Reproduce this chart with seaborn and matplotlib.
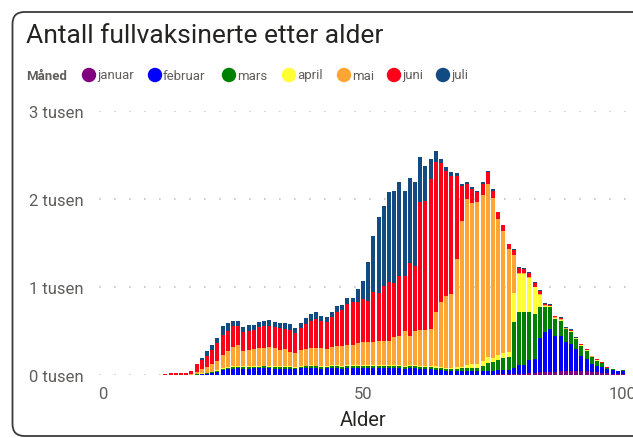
import matplotlib
matplotlib.use("Agg")
import matplotlib.pyplot as plt
from matplotlib.patches import FancyBboxPatch, Circle
import pandas as pd
import seaborn as sns

# alder 12..100
ages = list(range(12, 101))

januar = [0, 0, 0, 0, 0, 0, 0, 0,
          0, 0, 0, 3, 3, 5, 5, 5, 5, 5,
          5, 5, 5, 5, 5, 5, 5, 5, 5, 5,
          5, 5, 5, 5, 5, 5, 5, 5, 5, 5,
          5, 5, 5, 5, 5, 5, 5, 5, 5, 5,
          5, 5, 5, 5, 5, 5, 5, 5, 5, 5,
          5, 5, 5, 5, 5, 5, 8, 8, 10, 10,
          15, 15, 20, 25, 30, 35, 35, 35, 48, 45,
          45, 45, 45, 40, 35, 30, 25, 20, 15, 10, 10]
februar = [0, 0, 0, 0, 0, 0, 5, 8,
           12, 20, 35, 55, 60, 65, 70, 65, 65, 70,
           70, 72, 70, 68, 65, 68, 65, 60, 70, 70,
           72, 70, 68, 70, 72, 70, 68, 72, 70, 72,
           70, 72, 70, 72, 70, 72, 70, 75, 65, 72,
           70, 60, 62, 60, 55, 50, 45, 45, 45, 45,
           45, 45, 40, 42, 45, 45, 50, 50, 48, 66,
           99, 99, 150, 157, 385, 450, 488, 412, 398, 326,
           307, 251, 175, 142, 90, 76, 62, 45, 40, 33, 40]
mars = [0, 0, 0, 0, 0, 0, 3, 5,
        8, 10, 12, 15, 18, 20, 20, 20, 20, 20,
        20, 20, 20, 20, 20, 20, 20, 18, 20, 22,
        22, 22, 20, 20, 22, 22, 22, 22, 22, 24,
        24, 24, 24, 24, 24, 24, 25, 25, 25, 28,
        28, 28, 28, 28, 25, 22, 20, 20, 22, 25,
        30, 35, 40, 60, 85, 100, 114, 133, 152, 530,
        606, 606, 550, 512, 360, 284, 246, 190, 170, 152,
        133, 114, 114, 95, 76, 57, 49, 15, 8, 5, 5]
april = [0, 0, 0, 0, 0, 0, 5, 8,
         8, 8, 10, 10, 10, 10, 10, 10, 10, 10,
         10, 10, 10, 10, 10, 10, 10, 10, 10, 10,
         10, 10, 10, 10, 10, 12, 12, 12, 12, 12,
         12, 12, 12, 12, 12, 12, 12, 12, 12, 12,
         12, 12, 12, 12, 12, 12, 12, 12, 15, 20,
         30, 40, 45, 55, 65, 45, 57, 57, 57, 322,
         430, 430, 380, 303, 133, 19, 10, 10, 10, 5,
         10, 5, 5, 5, 5, 5, 3, 2, 2, 1, 1]
mai = [3, 4, 4, 3, 5, 8, 17, 47,
       59, 87, 106, 144, 178, 215, 240, 177, 184, 191,
       198, 200, 210, 204, 188, 193, 158, 157, 179, 189,
       194, 200, 204, 191, 206, 217, 227, 234, 236, 251,
       261, 259, 268, 270, 272, 270, 316, 323, 397, 330,
       389, 410, 408, 418, 616, 737, 820, 839, 1232, 1660,
       1891, 1835, 1833, 1886, 1972, 1811, 1545, 1393, 1166, 440,
       10, 10, 10, 8, 8, 8, 8, 8, 10, 5,
       10, 5, 5, 5, 5, 5, 2, 2, 1, 1, 0]
juni = [12, 14, 16, 15, 18, 35, 95, 102,
        129, 163, 197, 228, 235, 238, 208, 208, 220, 216,
        247, 254, 246, 235, 243, 227, 257, 228, 250, 284,
        307, 330, 303, 303, 348, 394, 405, 462, 481, 462,
        492, 473, 568, 549, 633, 671, 618, 689, 625, 826,
        732, 1448, 1467, 1705, 1705, 1584, 1421, 1345, 940, 398,
        171, 152, 114, 121, 140, 87, 75, 60, 50, 57,
        60, 50, 47, 38, 38, 15, 10, 10, 12, 6,
        12, 5, 5, 5, 5, 5, 2, 2, 1, 0, 0]
juli = [0, 0, 0, 0, 0, 2, 5, 23,
        57, 57, 57, 106, 87, 65, 65, 64, 64, 56,
        49, 57, 68, 64, 56, 64, 65, 53, 53, 68,
        83, 76, 64, 56, 57, 68, 61, 69, 50, 152,
        205, 444, 637, 861, 902, 1023, 1050, 1061, 967, 963,
        954, 512, 391, 228, 125, 46, 38, 38, 34, 19,
        18, 19, 19, 19, 11, 15, 8, 8, 7, 8,
        11, 10, 10, 10, 10, 10, 8, 5, 6, 3,
        6, 4, 4, 4, 4, 4, 2, 1, 1, 1, 1]

months = ["januar", "februar", "mars", "april", "mai", "juni", "juli"]
colors = ["#800080", "#0000FF", "#008000", "#FFFF33", "#FFA533", "#FF0018", "#124A82"]
series = [januar, februar, mars, april, mai, juni, juli]

rows = []
for m, vals in zip(months, series):
    for a, v in zip(ages, vals):
        rows.append({"Alder": a, "Måned": m, "Antall": v})
df = pd.DataFrame(rows)

sns.set_style("white")
plt.rcParams["font.family"] = ["Roboto", "DejaVu Sans"]

W, H = 633, 439
fig = plt.figure(figsize=(6.33, 4.39), dpi=100)

# overlay i piksler for ramme, tittel og legende
bg = fig.add_axes([0, 0, 1, 1], zorder=-1)
bg.set_xlim(0, W)
bg.set_ylim(H, 0)
bg.axis("off")
bg.add_patch(FancyBboxPatch((12.5, 13), 2000, 424, boxstyle="round,pad=0,rounding_size=12",
                            facecolor="none", edgecolor="#3a3a3a", linewidth=1.3,
                            clip_on=False))

ax = fig.add_axes([99 / W, 63 / H, 529 / W, 264 / H])
sns.histplot(data=df, x="Alder", weights="Antall", hue="Måned",
             hue_order=months[::-1], palette=dict(zip(months, colors)),
             multiple="stack", discrete=True, shrink=0.8, linewidth=0,
             alpha=1, legend=False, ax=ax)

ax.set_xlim(-0.77, 100.96)
ax.set_ylim(0, 3000)
ax.set_yticks([0, 1000, 2000, 3000])
ax.set_yticklabels(["0 tusen", "1 tusen", "2 tusen", "3 tusen"])
ax.set_xticks([0, 50, 100])
ax.tick_params(axis="both", length=0, labelsize=12, labelcolor="#605E5C")
ax.tick_params(axis="y", pad=11)
ax.tick_params(axis="x", pad=8)
ax.set_xlabel("")
ax.set_ylabel("")
for s in ax.spines.values():
    s.set_visible(False)
ax.set_axisbelow(True)
ax.yaxis.grid(True, color="#C8C6C4", linestyle=(0, (1, 8)), linewidth=1.2)
ax.xaxis.grid(False)
ax.patch.set_alpha(0)

bg.text(363, 421, "Alder", ha="center", va="center", fontsize=14.5, color="#252423")
bg.text(26, 36, "Antall fullvaksinerte etter alder", ha="left", va="center",
        fontsize=19, color="#252423")

# legende
bg.text(26, 76, "Måned", ha="left", va="center", fontsize=9.5,
        fontweight="bold", color="#605E5C")
leg_x = [89, 155, 229, 289, 344, 394, 443]
for x, m, c in zip(leg_x, months, colors):
    bg.add_patch(Circle((x, 76), 6.5, color=c))
    bg.text(x + 8, 76, m, ha="left", va="center", fontsize=9.5, color="#605E5C")

fig.savefig("out.png", dpi=100)
